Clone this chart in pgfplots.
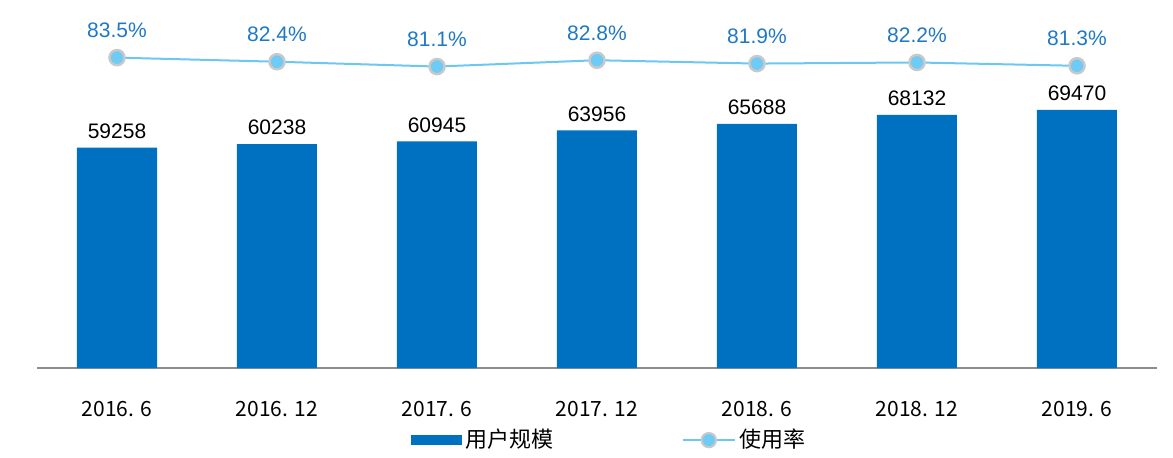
\documentclass[border=0pt]{standalone}
\usepackage{fontspec}
\setmainfont{Liberation Sans}
\newfontfamily\cjk{Noto Sans CJK SC}
\usepackage{pgfplots}
\pgfplotsset{compat=1.18}
\definecolor{barblue}{HTML}{0070C0}
\definecolor{lineblue}{HTML}{6CC7F2}
\definecolor{markfill}{HTML}{6DCBF5}
\definecolor{markedge}{HTML}{C9C9C9}
\definecolor{pctblue}{HTML}{1F78C6}
\definecolor{axisgray}{HTML}{8C8C8C}

\begin{document}
\begin{tikzpicture}
\useasboundingbox (-18.5pt,-44.5pt) rectangle (568pt,184pt);
% bars: users (10k)
\begin{axis}[
  scale only axis, width=560pt, height=184pt,
  xmin=-0.5, xmax=6.5, ymin=0, ymax=99000,
  axis x line=bottom, axis y line=none,
  x axis line style={draw=axisgray, line width=1pt, -},
  xtick=data,
  xticklabels={2016. 6,2016. 12,2017. 6,2017. 12,2018. 6,2018. 12,2019. 6},
  major tick length=0pt,
  xticklabel style={font=\cjk\fontsize{10.5}{12}\selectfont, yshift=-13pt},
]
\addplot[ybar, bar width=40pt, fill=barblue, draw=none,
  nodes near coords={\pgfmathprintnumber[fixed,precision=0,1000 sep={},assume math mode=true]{\pgfplotspointmeta}},
  nodes near coords style={font=\fontsize{10.5}{12}\selectfont, text=black, yshift=1pt}]
coordinates {(0,59258) (1,60238) (2,60945) (3,63956) (4,65688) (5,68132) (6,69470)};
\end{axis}
% line: usage rate (%)
\begin{axis}[
  scale only axis, width=560pt, height=184pt,
  xmin=-0.5, xmax=6.5, ymin=0, ymax=99,
  hide axis,
  legend style={at={(0.512,-0.196)}, anchor=center, draw=none, fill=none,
    legend columns=2, font=\cjk\fontsize{11}{13}\selectfont,
    /tikz/every even column/.append style={column sep=62pt}},
]
\addlegendimage{legend image code/.code={\fill[barblue] (0pt,-2.2pt) rectangle (25pt,2.2pt);}}
\addlegendentry{用户规模}
\addplot[lineblue, line width=1pt, mark=*, mark size=3.8pt,
  mark options={fill=markfill, draw=markedge, line width=1.2pt},
  nodes near coords={\pgfmathprintnumber[fixed,precision=1,fixed zerofill,assume math mode=true]{\pgfplotspointmeta}\%},
  nodes near coords style={font=\fontsize{10.5}{12}\selectfont, text=pctblue, yshift=6pt},
  legend image code/.code={\draw[lineblue,line width=1pt] (0pt,0pt) -- (26pt,0pt);
    \filldraw[fill=markfill,draw=markedge,line width=1pt] (13pt,0pt) circle (3.6pt);}]
coordinates {(0,83.5) (1,82.4) (2,81.1) (3,82.8) (4,81.9) (5,82.2) (6,81.3)};
\addlegendentry{使用率}
\end{axis}
\end{tikzpicture}
\end{document}
